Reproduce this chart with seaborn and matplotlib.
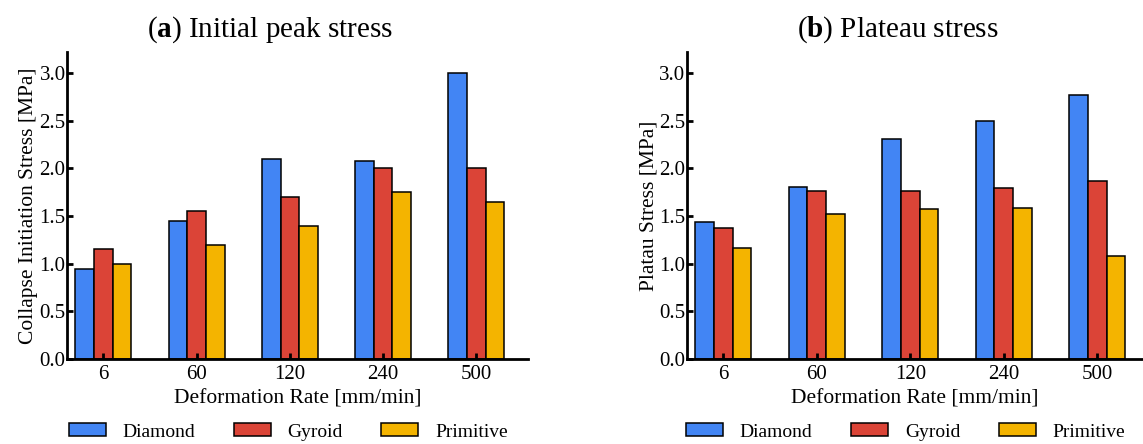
import pandas as pd
import numpy as np
import matplotlib
matplotlib.use('Agg')
import matplotlib.pyplot as plt
import seaborn as sns

sns.set_style('ticks')
plt.rcParams['font.family'] = ['Liberation Serif', 'DejaVu Serif']
plt.rcParams['mathtext.fontset'] = 'custom'
plt.rcParams['mathtext.rm'] = 'Liberation Serif'
plt.rcParams['mathtext.bf'] = 'Liberation Serif:bold'
plt.rcParams['text.color'] = 'black'
plt.rcParams['axes.labelcolor'] = 'black'
plt.rcParams['axes.edgecolor'] = 'black'
plt.rcParams['xtick.color'] = 'black'
plt.rcParams['ytick.color'] = 'black'

# data
rates = ['6', '60', '120', '240', '500']
structures = ['Diamond', 'Gyroid', 'Primitive']

peak_diamond = [0.95, 1.45, 2.10, 2.08, 3.00]
peak_gyroid = [1.15, 1.55, 1.70, 2.00, 2.00]
peak_primitive = [1.00, 1.20, 1.40, 1.75, 1.65]

plateau_diamond = [1.44, 1.81, 2.31, 2.50, 2.77]
plateau_gyroid = [1.38, 1.76, 1.76, 1.79, 1.87]
plateau_primitive = [1.16, 1.52, 1.57, 1.58, 1.08]

colors = ['#4285f4', '#db4437', '#f4b400']


def make_df(d, g, p):
    rows = []
    for name, vals in zip(structures, [d, g, p]):
        for r, v in zip(rates, vals):
            rows.append({'rate': r, 'structure': name, 'stress': v})
    return pd.DataFrame(rows)


peak = make_df(peak_diamond, peak_gyroid, peak_primitive)
plateau = make_df(plateau_diamond, plateau_gyroid, plateau_primitive)

fig = plt.figure(figsize=(11.43, 4.44), dpi=100)
ax1 = fig.add_axes([0.0586, 0.1914, 0.403, 0.691])
ax2 = fig.add_axes([0.601, 0.1914, 0.399, 0.691])

panels = [
    (ax1, peak, r'($\mathbf{a}$) Initial peak stress', 'Collapse Initiation Stress [MPa]', (-0.39, 4.55), 0.44),
    (ax2, plateau, r'($\mathbf{b}$) Plateau stress', 'Platau Stress [MPa]', (-0.39, 4.49), 0.463),
]

for ax, df, title, ylabel, xl, tx in panels:
    sns.barplot(data=df, x='rate', y='stress', hue='structure', hue_order=structures,
                palette=colors, width=0.6, edgecolor='black', linewidth=1.1,
                saturation=1, ax=ax)
    ax.set_axisbelow(False)
    ax.set_xlim(*xl)
    ax.set_ylim(0, 3.22)
    ax.set_yticks(np.arange(0, 3.01, 0.5))
    ax.set_yticklabels([f'{t:.1f}' for t in np.arange(0, 3.01, 0.5)])
    ax.set_title(title, fontsize=21, pad=11, x=tx)
    ax.set_ylabel(ylabel, fontsize=15.5, labelpad=1)
    ax.set_xlabel('Deformation Rate [mm/min]', fontsize=15.5, labelpad=4)
    ax.tick_params(axis='both', direction='in', length=4, width=2, labelsize=15, pad=4)
    ax.tick_params(axis='y', pad=1)
    for s in ['top', 'right']:
        ax.spines[s].set_visible(False)
    for s in ['left', 'bottom']:
        ax.spines[s].set_linewidth(2)
    ax.legend(loc='center', bbox_to_anchor=(0.48, -0.238), ncol=3, frameon=False,
              fontsize=14, handlelength=1.9, handleheight=0.65, handletextpad=0.85,
              columnspacing=2.0)

fig.savefig('out.png', dpi=100)
